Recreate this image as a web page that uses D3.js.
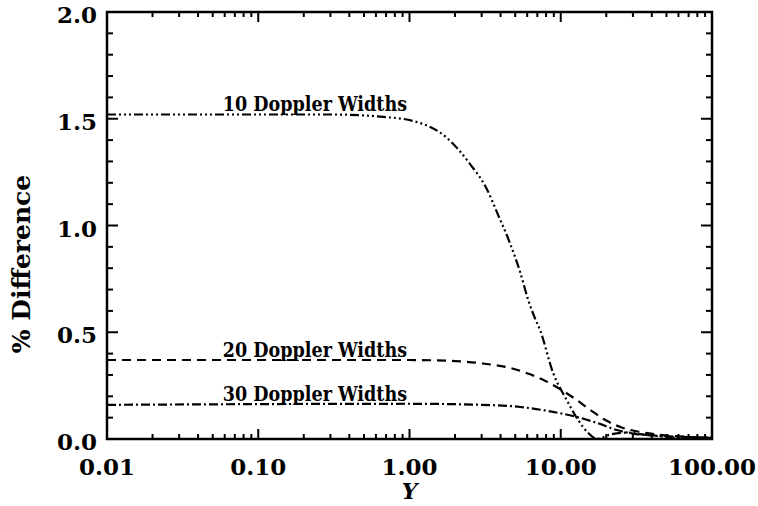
<!DOCTYPE html>
<html>
<head>
<meta charset="utf-8">
<script src="https://cdn.jsdelivr.net/npm/d3@7"></script>
<style>
    body { margin: 0; background: #fff; }
    text { font-family: "DejaVu Serif", serif; font-weight: bold; fill: #000; }
</style>
</head>
<body>
<div id="chart"></div>
<script>
//Tick values and labels
var xTicks = [0.01, 0.1, 1, 10, 100];
var xTickLabels = ["0.01", "0.10", "1.00", "10.00", "100.00"];
var yTicks = [0, 0.5, 1.0, 1.5, 2.0];
var yTickLabels = ["0.0", "0.5", "1.0", "1.5", "2.0"];

//Series: 10 Doppler widths
var tenX = [0.01, 0.3, 0.64, 1.05, 1.77, 2.5, 3.25, 3.85, 4.6, 5.4, 6.1, 6.8, 7.3, 8.9, 11, 13, 15.1, 17.4, 21, 27, 36, 53, 100];
var tenY = [1.52, 1.52, 1.51, 1.49, 1.41, 1.29, 1.17, 1.05, 0.92, 0.78, 0.65, 0.56, 0.51, 0.31, 0.18, 0.09, 0.03, 0.0, 0.02, 0.03, 0.02, 0.008, 0.0];

//Series: 20 Doppler widths
var twentyX = [0.01, 1, 2, 2.94, 4.61, 6.22, 7.92, 10, 12.5, 15.7, 19.6, 24.8, 33.3, 45, 69, 100];
var twentyY = [0.37, 0.37, 0.365, 0.355, 0.333, 0.304, 0.272, 0.232, 0.187, 0.136, 0.09, 0.056, 0.033, 0.02, 0.01, 0.005];

//Series: 30 Doppler widths
var thirtyX = [0.01, 1, 3, 5.4, 8.9, 13.3, 17.4, 23.5, 31.5, 47.5, 87, 100];
var thirtyY = [0.16, 0.165, 0.16, 0.15, 0.127, 0.10, 0.075, 0.042, 0.023, 0.014, 0.008, 0.008];

//Curve labels
var labelNames = ["10 Doppler Widths", "20 Doppler Widths", "30 Doppler Widths"];
var labelAt = [[0.237, 1.535], [0.237, 0.385], [0.237, 0.178]];

//Configuration
var width = 758, height = 506;
var margin = { top: 12, right: 46, bottom: 67, left: 107 };
var innerW = width - margin.left - margin.right;
var innerH = height - margin.top - margin.bottom;

var svg = d3.select("#chart")
    .append("svg")
        .attr("width", width)
        .attr("height", height);

var g = svg.append("g")
    .attr("transform", `translate(${margin.left}, ${margin.top})`);

//Scales
var x = d3.scaleLog().domain([0.01, 100]).range([0, innerW]);
var y = d3.scaleLinear().domain([0, 2]).range([innerH, 0]);

//Minor ticks
var xMinor = [];
xTicks.slice(0, -1).forEach(function(d) {
    for (var k = 2; k <= 9; ++k) xMinor.push(d * k);
});
var yMinor = d3.range(0, 2.001, 0.1).filter(function(d) {
    return Math.abs(d * 2 - Math.round(d * 2)) > 1e-6;
});

//Ticks point inward on all four sides
var tickGroup = g.append("g").attr("stroke", "#000").attr("stroke-width", 2);

function drawTicks(values, len, horizontal) {
    values.forEach(function(v) {
        if (horizontal) {
            var px = x(v);
            tickGroup.append("line").attr("x1", px).attr("x2", px).attr("y1", innerH).attr("y2", innerH - len);
            tickGroup.append("line").attr("x1", px).attr("x2", px).attr("y1", 0).attr("y2", len);
        } else {
            var py = y(v);
            tickGroup.append("line").attr("y1", py).attr("y2", py).attr("x1", 0).attr("x2", len);
            tickGroup.append("line").attr("y1", py).attr("y2", py).attr("x1", innerW).attr("x2", innerW - len);
        }
    });
}

drawTicks(xTicks, 10, true);
drawTicks(xMinor, 5, true);
drawTicks(yTicks, 11, false);
drawTicks(yMinor, 6, false);

//Frame
g.append("rect")
    .attr("width", innerW)
    .attr("height", innerH)
    .attr("fill", "none")
    .attr("stroke", "#000")
    .attr("stroke-width", 2.5);

//Tick labels
g.selectAll(".xlab")
    .data(xTicks)
    .enter().append("text")
        .attr("x", function(d) { return x(d); })
        .attr("y", innerH + 36)
        .attr("text-anchor", "middle")
        .style("font-size", "23px")
        .text(function(d, i) { return xTickLabels[i]; });

g.selectAll(".ylab")
    .data(yTicks)
    .enter().append("text")
        .attr("x", -10)
        .attr("y", function(d) { return y(d) + 3; })
        .attr("dy", "0.35em")
        .attr("text-anchor", "end")
        .style("font-size", "23px")
        .text(function(d, i) { return yTickLabels[i]; });

//Axis titles
svg.append("text")
    .attr("transform", "translate(30, 264) rotate(-90)")
    .attr("text-anchor", "middle")
    .style("font-size", "25px")
    .text("% Difference");

svg.append("text")
    .attr("x", margin.left + x(1))
    .attr("y", height - 7)
    .attr("text-anchor", "middle")
    .style("font-size", "22px")
    .style("font-style", "italic")
    .text("Y");

//Curves
var line = d3.line()
    .x(function(d) { return x(d[0]); })
    .y(function(d) { return y(d[1]); })
    .curve(d3.curveMonotoneX);

function pairs(xs, ys) {
    return xs.map(function(v, i) { return [v, ys[i]]; });
}

var series = [
    { data: pairs(tenX, tenY), dash: "9,3,2,3,2,3,2,3" },
    { data: pairs(twentyX, twentyY), dash: "9,6" },
    { data: pairs(thirtyX, thirtyY), dash: "9,3,2,3" }
];

series.forEach(function(s) {
    g.append("path")
        .datum(s.data)
        .attr("d", line)
        .attr("fill", "none")
        .attr("stroke", "#000")
        .attr("stroke-width", 2.2)
        .attr("stroke-dasharray", s.dash);
});

//Curve labels
labelNames.forEach(function(name, i) {
    g.append("text")
        .attr("x", x(labelAt[i][0]))
        .attr("y", y(labelAt[i][1]))
        .attr("text-anchor", "middle")
        .style("font-size", "19.5px")
        .style("font-family", "'DejaVu Serif Condensed', 'DejaVu Serif', serif")
        .text(name);
});
</script>
</body>
</html>
